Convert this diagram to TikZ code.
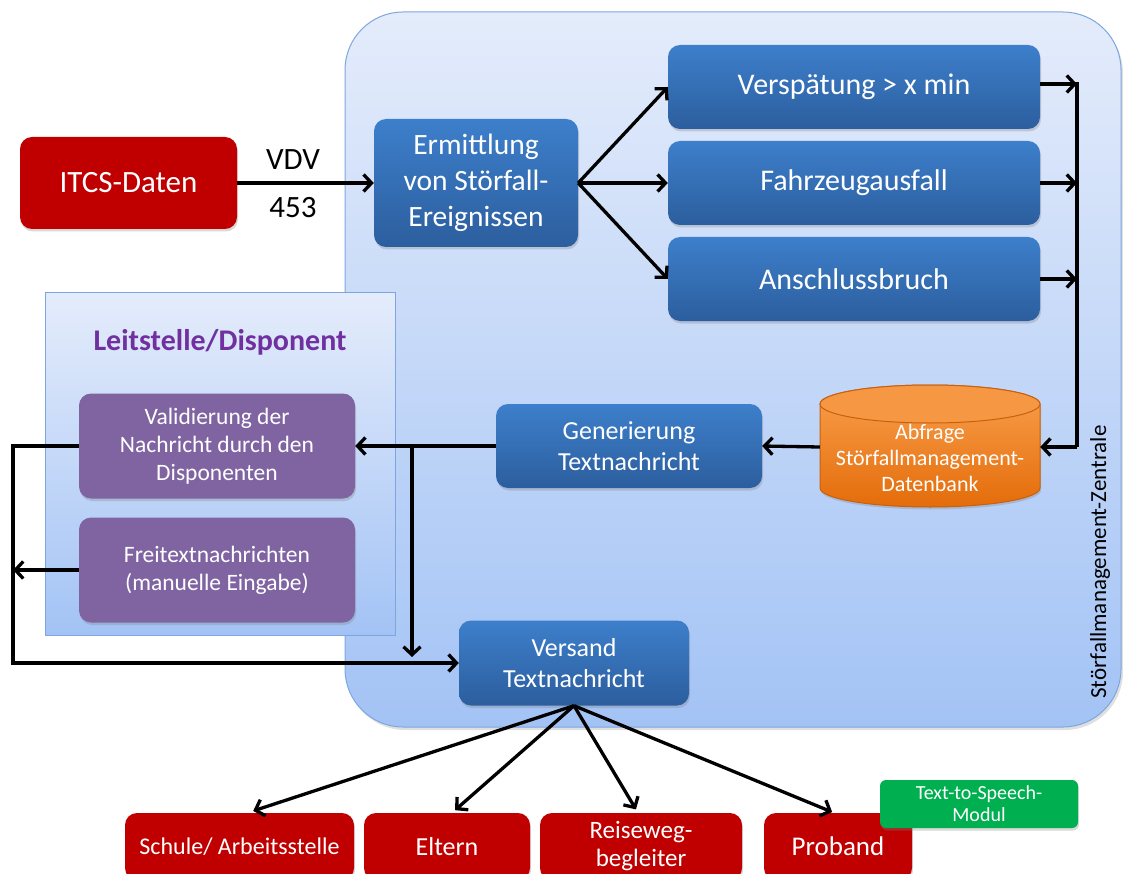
\documentclass[tikz,border=0pt]{standalone}
\usepackage{fontspec}
\setmainfont{Carlito}
\usetikzlibrary{arrows.meta,shadows}
\definecolor{bgTop}{HTML}{E4ECFB}
\definecolor{bgBot}{HTML}{A3C3F5}
\definecolor{bgBorder}{HTML}{7EA6DE}
\definecolor{bTop}{HTML}{3D7FCB}
\definecolor{bBot}{HTML}{2C5E9E}
\definecolor{redc}{HTML}{C00000}
\definecolor{purc}{HTML}{8064A2}
\definecolor{greenc}{HTML}{00B050}
\definecolor{orTop}{HTML}{F9A04D}
\definecolor{orBot}{HTML}{E46C0A}
\definecolor{orBorder}{HTML}{C8600C}
\definecolor{titlec}{HTML}{7030A0}
\tikzset{
  box/.style={rounded corners=12pt, align=center, text=white, inner sep=2pt,
    drop shadow={opacity=0.3, shadow xshift=1pt, shadow yshift=-2.5pt}},
  bluebox/.style={box, top color=bTop, bottom color=bBot, font=\fontsize{30}{36}\selectfont},
  redbox/.style={box, fill=redc, font=\fontsize{26}{28}\selectfont},
  purplebox/.style={box, fill=purc, minimum width=276pt, minimum height=105pt, font=\fontsize{23.5}{28}\selectfont},
  conn/.style={line width=3.3pt},
  arr/.style={conn, -{Straight Barb[length=8pt,width=17pt]}},
  lbl/.style={font=\fontsize{31}{34}\selectfont, text=black}
}
\begin{document}
\begin{tikzpicture}[x=1pt,y=-1pt]
\useasboundingbox (0,0) rectangle (1123,874);
\clip (0,0) rectangle (1123,874);
% main container
\path[draw=bgBorder, line width=1pt, top color=bgTop, bottom color=bgBot, rounded corners=58pt,
  drop shadow={opacity=0.25, shadow xshift=2pt, shadow yshift=-3pt}] (345,12) rectangle (1121,727);
\node[rotate=90, font=\fontsize{23}{26}\selectfont] (zlabel) at (1100,562) {Störfallmanagement-Zentrale};
% Leitstelle
\node[draw=bgBorder, line width=1pt, top color=bgTop, bottom color=bgBot, minimum width=350pt, minimum height=342pt] (leit) at (220,464) {};
\node[font=\bfseries\fontsize{30}{34}\selectfont, text=titlec] (leittitle) at (220,342) {Leitstelle/Disponent};
% nodes
\node[box, fill=redc, minimum width=217pt, minimum height=92pt, font=\fontsize{31}{34}\selectfont] (itcs) at (128.5,183) {ITCS-Daten};
\node[bluebox, minimum width=204pt, minimum height=128pt, font=\fontsize{29.5}{36}\selectfont] (erm) at (476,183) {Ermittlung\\von Störfall-\\Ereignissen};
\node[bluebox, minimum width=372pt, minimum height=84pt] (versp) at (854,87) {Verspätung > x min};
\node[bluebox, minimum width=372pt, minimum height=84pt] (fahr) at (854,183) {Fahrzeugausfall};
\node[bluebox, minimum width=372pt, minimum height=84pt] (ansch) at (854,279) {Anschlussbruch};
\node[bluebox, minimum width=266pt, minimum height=84pt, font=\fontsize{26}{31}\selectfont] (gen) at (629,446) {Generierung\\Textnachricht};
\node[bluebox, minimum width=230pt, minimum height=85pt, font=\fontsize{26}{31}\selectfont] (versand) at (574,663) {Versand\\Textnachricht};
\node[purplebox] (valid) at (217,446) {Validierung der\\Nachricht durch den\\Disponenten};
\node[purplebox] (freit) at (217,570) {Freitextnachrichten\\(manuelle Eingabe)};
% database cylinder
\node[minimum width=220pt, minimum height=122pt, inner sep=0pt] (db) at (930,447) {};
\path[draw=orBorder, line width=1pt, top color=orTop, bottom color=orBot,
  drop shadow={opacity=0.3, shadow xshift=1pt, shadow yshift=-2.5pt}]
  (820,404) -- (820,488) arc[start angle=180,end angle=360,x radius=110pt,y radius=19pt]
  -- (1040,404) arc[start angle=0,end angle=180,x radius=110pt,y radius=19pt] -- cycle;
\draw[draw=orBorder, line width=1pt, fill=orTop!85!orBot] (930,404) ellipse[x radius=110pt, y radius=19pt];
\node[align=center, text=white, font=\fontsize{22}{26}\selectfont] (dbtext) at (930,458) {Abfrage\\Störfallmanagement-\\Datenbank};
% bottom recipients
\node[redbox, minimum width=229pt, minimum height=67pt, font=\fontsize{24}{28}\selectfont] (schule) at (239.5,846.5) {Schule/ Arbeitsstelle};
\node[redbox, minimum width=166pt, minimum height=67pt] (eltern) at (447,846.5) {Eltern};
\node[redbox, minimum width=202pt, minimum height=67pt, font=\fontsize{25}{28}\selectfont] (reise) at (641,846.5) {Reiseweg-\\begleiter};
\node[redbox, minimum width=148pt, minimum height=67pt, font=\fontsize{27}{28}\selectfont] (proband) at (838,846.5) {Proband};
\node[box, fill=greenc, rounded corners=6pt, minimum width=198pt, minimum height=48pt, font=\fontsize{20}{22}\selectfont] (tts) at (979,804) {Text-to-Speech-\\Modul};
% labels
\node[lbl] (vdv) at (293,160) {VDV};
\node[lbl] (n453) at (293,208) {453};
% connectors
\draw[arr] (itcs.east) -- (erm.west);
\draw[arr] (erm.east) -- (versp.west);
\draw[arr] (erm.east) -- (fahr.west);
\draw[arr] (erm.east) -- (ansch.west);
\coordinate (c1) at (1077,84);
\coordinate (c3) at (1077,447);
\draw[arr] (versp.east |- c1) -- (c1);
\draw[arr] (fahr.east) -- (fahr.east -| c1);
\draw[arr] (ansch.east) -- (ansch.east -| c1);
\draw[conn] ([yshift=1.5pt]c1) -- (c3);
\draw[arr] (c3) -- (db.east);
\draw[arr] (db.west) -- (gen.east);
\draw[arr] (gen.west) -- (valid.east);
\coordinate (br) at (412,446);
\coordinate (brd) at (412,657);
\draw[arr] (br) -- (brd);
\coordinate (lt) at (13,446);
\coordinate (lb) at (13,663);
\draw[arr] (valid.west) -- (lt) -- (lb) -- (versand.west);
\draw[arr] (freit.west) -- (lt |- freit.west);
\draw[arr, shorten >=6pt] (versand.south) -- ([xshift=8pt]schule.north);
\draw[arr, shorten >=4pt] (versand.south) -- ([xshift=5pt]eltern.north);
\draw[arr, shorten >=4pt] (versand.south) -- ([xshift=-3pt]reise.north);
\draw[arr, shorten >=2pt] (versand.south) -- ([xshift=-4pt]proband.north);
\end{tikzpicture}
\end{document}
